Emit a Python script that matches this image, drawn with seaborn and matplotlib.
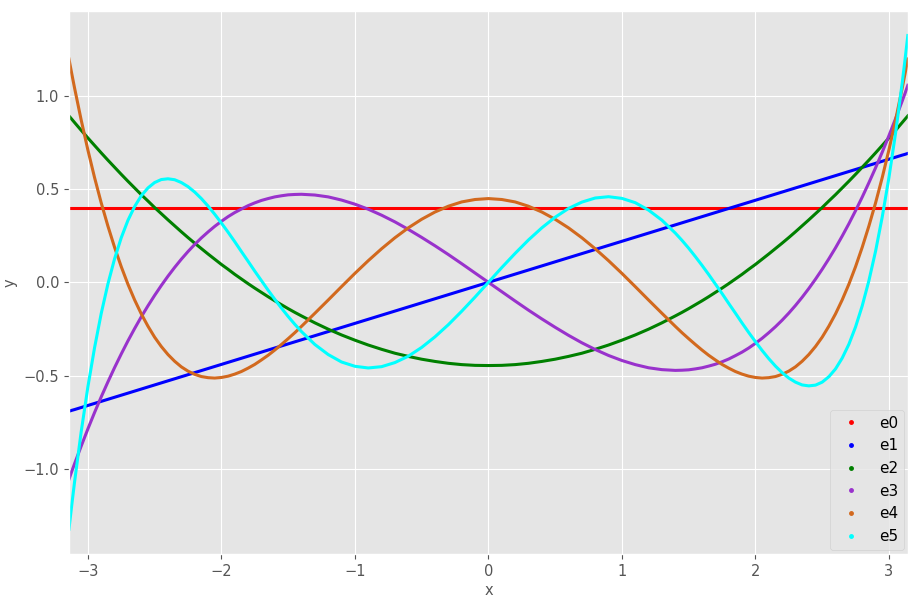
import pandas as pd
import matplotlib
matplotlib.use("Agg")
import matplotlib.pyplot as plt
import seaborn as sns
from matplotlib.lines import Line2D

# sample positions along x (-pi .. pi), denser towards the ends
x_vals = [-3.1416, -3.12, -3.1, -3.05, -3.0, -2.95, -2.9, -2.85, -2.8, -2.75, -2.7,
          -2.65, -2.6, -2.55, -2.5, -2.45, -2.4, -2.35, -2.3, -2.25, -2.2, -2.15,
          -2.1, -2.05, -2.0, -1.95, -1.9, -1.85, -1.8, -1.75, -1.7, -1.65, -1.6,
          -1.55, -1.5, -1.45, -1.4, -1.3, -1.2, -1.1, -1.0, -0.9, -0.8, -0.7, -0.6,
          -0.5, -0.4, -0.3, -0.2, -0.1,
          0.0, 0.1, 0.2, 0.3, 0.4, 0.5, 0.6, 0.7, 0.8, 0.9, 1.0, 1.1, 1.2, 1.3, 1.4,
          1.45, 1.5, 1.55, 1.6, 1.65, 1.7, 1.75, 1.8, 1.85, 1.9, 1.95, 2.0, 2.05,
          2.1, 2.15, 2.2, 2.25, 2.3, 2.35, 2.4, 2.45, 2.5, 2.55, 2.6, 2.65, 2.7,
          2.75, 2.8, 2.85, 2.9, 2.95, 3.0, 3.05, 3.1, 3.12, 3.1416]

e0 = [0.399] * len(x_vals)
e1 = [-0.691, -0.686, -0.682, -0.671, -0.660, -0.649, -0.638, -0.627, -0.616, -0.605,
      -0.594, -0.583, -0.572, -0.561, -0.550, -0.539, -0.528, -0.517, -0.506, -0.495,
      -0.484, -0.473, -0.462, -0.451, -0.440, -0.429, -0.418, -0.407, -0.396, -0.385,
      -0.374, -0.363, -0.352, -0.341, -0.330, -0.319, -0.308, -0.286, -0.264, -0.242,
      -0.220, -0.198, -0.176, -0.154, -0.132, -0.110, -0.088, -0.066, -0.044, -0.022,
      0.000, 0.022, 0.044, 0.066, 0.088, 0.110, 0.132, 0.154, 0.176, 0.198, 0.220,
      0.242, 0.264, 0.286, 0.308, 0.319, 0.330, 0.341, 0.352, 0.363, 0.374, 0.385,
      0.396, 0.407, 0.418, 0.429, 0.440, 0.451, 0.462, 0.473, 0.484, 0.495, 0.506,
      0.517, 0.528, 0.539, 0.550, 0.561, 0.572, 0.583, 0.594, 0.605, 0.616, 0.627,
      0.638, 0.649, 0.660, 0.671, 0.682, 0.686, 0.691]
e2 = [0.892, 0.874, 0.857, 0.815, 0.774, 0.734, 0.694, 0.655, 0.617, 0.579, 0.542,
      0.506, 0.470, 0.436, 0.401, 0.368, 0.335, 0.303, 0.271, 0.240, 0.210, 0.181,
      0.152, 0.124, 0.096, 0.070, 0.043, 0.018, -0.007, -0.031, -0.054, -0.077,
      -0.099, -0.120, -0.141, -0.161, -0.180, -0.217, -0.251, -0.282, -0.310, -0.336,
      -0.359, -0.380, -0.397, -0.412, -0.424, -0.434, -0.441, -0.445,
      -0.446, -0.445, -0.441, -0.434, -0.424, -0.412, -0.397, -0.380, -0.359, -0.336,
      -0.310, -0.282, -0.251, -0.217, -0.180, -0.161, -0.141, -0.120, -0.099, -0.077,
      -0.054, -0.031, -0.007, 0.018, 0.043, 0.070, 0.096, 0.124, 0.152, 0.181, 0.210,
      0.240, 0.271, 0.303, 0.335, 0.368, 0.401, 0.436, 0.470, 0.506, 0.542, 0.579,
      0.617, 0.655, 0.694, 0.734, 0.774, 0.815, 0.857, 0.874, 0.892]
e3 = [-1.056, -1.012, -0.973, -0.878, -0.786, -0.698, -0.614, -0.534, -0.457, -0.384,
      -0.314, -0.248, -0.185, -0.126, -0.070, -0.017, 0.033, 0.080, 0.124, 0.165,
      0.203, 0.238, 0.270, 0.300, 0.327, 0.352, 0.374, 0.393, 0.411, 0.426, 0.439,
      0.449, 0.458, 0.464, 0.469, 0.471, 0.472, 0.468, 0.458, 0.441, 0.419, 0.392,
      0.360, 0.324, 0.284, 0.241, 0.196, 0.149, 0.100, 0.050,
      0.000, -0.050, -0.100, -0.149, -0.196, -0.241, -0.284, -0.324, -0.360, -0.392,
      -0.419, -0.441, -0.458, -0.468, -0.472, -0.471, -0.469, -0.464, -0.458, -0.449,
      -0.439, -0.426, -0.411, -0.393, -0.374, -0.352, -0.327, -0.300, -0.270, -0.238,
      -0.203, -0.165, -0.124, -0.080, -0.033, 0.017, 0.070, 0.126, 0.185, 0.248,
      0.314, 0.384, 0.457, 0.534, 0.614, 0.698, 0.786, 0.878, 0.973, 1.012, 1.056]
e4 = [1.197, 1.116, 1.043, 0.870, 0.710, 0.562, 0.426, 0.302, 0.188, 0.084, -0.010,
      -0.094, -0.169, -0.235, -0.294, -0.344, -0.387, -0.423, -0.453, -0.476, -0.493,
      -0.505, -0.511, -0.513, -0.510, -0.503, -0.492, -0.478, -0.460, -0.440, -0.416,
      -0.391, -0.363, -0.333, -0.302, -0.270, -0.236, -0.166, -0.095, -0.023, 0.048,
      0.116, 0.180, 0.239, 0.292, 0.338, 0.377, 0.408, 0.431, 0.444,
      0.449, 0.444, 0.431, 0.408, 0.377, 0.338, 0.292, 0.239, 0.180, 0.116, 0.048,
      -0.023, -0.095, -0.166, -0.236, -0.270, -0.302, -0.333, -0.363, -0.391, -0.416,
      -0.440, -0.460, -0.478, -0.492, -0.503, -0.510, -0.513, -0.511, -0.505, -0.493,
      -0.476, -0.453, -0.423, -0.387, -0.344, -0.294, -0.235, -0.169, -0.094, -0.010,
      0.084, 0.188, 0.302, 0.426, 0.562, 0.710, 0.870, 1.043, 1.116, 1.197]
e5 = [-1.323, -1.190, -1.072, -0.801, -0.561, -0.351, -0.167, -0.009, 0.126, 0.239,
      0.332, 0.406, 0.464, 0.506, 0.535, 0.551, 0.555, 0.550, 0.535, 0.513, 0.484,
      0.449, 0.409, 0.365, 0.318, 0.269, 0.218, 0.165, 0.113, 0.060, 0.009, -0.042,
      -0.091, -0.138, -0.183, -0.225, -0.264, -0.333, -0.387, -0.427, -0.450, -0.459,
      -0.452, -0.430, -0.396, -0.349, -0.292, -0.227, -0.155, -0.079,
      0.000, 0.079, 0.155, 0.227, 0.292, 0.349, 0.396, 0.430, 0.452, 0.459, 0.450,
      0.427, 0.387, 0.333, 0.264, 0.225, 0.183, 0.138, 0.091, 0.042, -0.009, -0.060,
      -0.113, -0.165, -0.218, -0.269, -0.318, -0.365, -0.409, -0.449, -0.484, -0.513,
      -0.535, -0.550, -0.555, -0.551, -0.535, -0.506, -0.464, -0.406, -0.332, -0.239,
      -0.126, 0.009, 0.167, 0.351, 0.561, 0.801, 1.072, 1.190, 1.323]

names = ["e0", "e1", "e2", "e3", "e4", "e5"]
series = [e0, e1, e2, e3, e4, e5]
colors = ["red", "blue", "green", "darkorchid", "chocolate", "cyan"]

for name, vals in zip(names, series):
    assert len(vals) == len(x_vals), (name, len(vals), len(x_vals))

# long format table for seaborn
frames = []
for name, vals in zip(names, series):
    frames.append(pd.DataFrame({"x": x_vals, "y": vals, "basis": name}))
df = pd.concat(frames, ignore_index=True)

plt.style.use("ggplot")
fig, ax = plt.subplots(figsize=(9.17, 6.02), dpi=100)

sns.lineplot(data=df, x="x", y="y", hue="basis", palette=colors,
             linewidth=2.2, legend=False, ax=ax, sort=False)

ax.set_xlim(-3.1416, 3.1416)
ax.set_xlabel("x", fontsize=10.5, color="#555555", labelpad=3)
ax.set_ylabel("y", fontsize=10.5, color="#555555", labelpad=4)
ax.tick_params(labelsize=10.5)

# dot-style legend like a scatter plot
handles = [Line2D([], [], linestyle="none", marker="o", markersize=2.5,
                  color=c, label=n) for n, c in zip(names, colors)]
ax.legend(handles=handles, loc="lower right", fontsize=11, borderaxespad=0.25)

plt.subplots_adjust(left=0.0752, right=0.990, bottom=0.080, top=0.982)
plt.savefig("out.png")
